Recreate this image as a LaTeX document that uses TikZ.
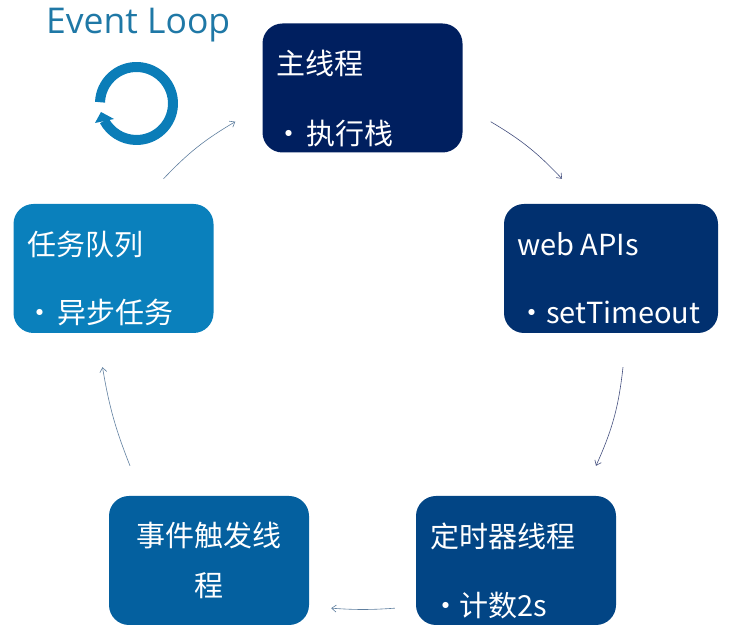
\documentclass[tikz,border=0pt]{standalone}
\usepackage{fontspec}
\setmainfont{Noto Sans CJK SC}
\newfontfamily\titlefont{Open Sans}
\usetikzlibrary{arrows.meta}
\definecolor{mainblue}{HTML}{001F5F}
\definecolor{webblue}{HTML}{01306F}
\definecolor{timerblue}{HTML}{024585}
\definecolor{eventblue}{HTML}{04609F}
\definecolor{queueblue}{HTML}{0A80BC}
\definecolor{loopblue}{HTML}{0B7DB8}
\definecolor{titleblue}{HTML}{1F78A6}
\definecolor{flowdark}{HTML}{45507F}
\definecolor{flowgray}{HTML}{5F7F9F}
\tikzset{
    box/.style={rounded corners=20pt, minimum width=200pt, minimum height=129pt, inner sep=0pt},
    txt/.style={anchor=base west, inner sep=0pt, text=white, font=\fontsize{29}{29}\selectfont},
    flow/.style={draw=flowgray, line width=0.6pt, -{Straight Barb[length=4.5pt,width=7pt]}},
}
\begin{document}
\begin{tikzpicture}[x=1pt,y=1pt]
        \useasboundingbox (0,0) rectangle (732,644);

        \node[box, fill=mainblue] (mainbox) at (362.5,556) {};
        \node[box, fill=webblue, minimum width=214pt] (webbox) at (611,375.5) {};
        \node[box, fill=timerblue] (timerbox) at (516,83.5) {};
        \node[box, fill=eventblue] (eventbox) at (209,83.5) {};
        \node[box, fill=queueblue] (queuebox) at (113.5,375.5) {};

        \node[txt] (maintitle) at (276,569) {主线程};
        \node[txt] (mainitem) at (274,499.5) {·\hspace{3pt}执行栈};
        \node[txt] (webtitle) at (517,388) {web APIs};
        \node[txt] (webitem) at (517,320) {·\hspace{0pt}setTimeout};
        \node[txt] (timertitle) at (430,96) {定时器线程};
        \node[txt] (timeritem) at (431,27) {·\hspace{-1pt}计数2s};
        \node[txt] (eventtitle) at (136,97) {事件触发线};
        \node[txt] (eventrest) at (194,47) {程};
        \node[txt] (queuetitle) at (27,388) {任务队列};
        \node[txt] (queueitem) at (25,320) {·\hspace{3pt}异步任务};

        \node[anchor=base west, inner sep=0pt, text=titleblue, font=\titlefont\fontsize{35.5}{35.5}\selectfont] (looptitle) at (46,610) {Event Loop};

        \coordinate (loopc) at (136.5,540.5);
        \draw[loopblue, line width=10pt] ([shift={(178:36.5)}]loopc) arc (178:-152:36.5);
        \fill[loopblue] ([shift={(-41.5,-19.5)}]loopc) -- ([shift={(-35.5,-8.5)}]loopc) -- ([shift={(-22.5,-15.5)}]loopc) -- cycle;

        \draw[flow, draw=flowdark] ([shift={(28,31)}]mainbox.south east) to[bend left=8] ([shift={(-49,25)}]webbox.north);
        \draw[flow, draw=flowdark] ([shift={(12,-34)}]webbox.south) to[bend left=9] ([shift={(80,30)}]timerbox.north);
        \draw[flow] ([shift={(-21,17)}]timerbox.south west) to[bend left=4] ([shift={(22,17)}]eventbox.south east);
        \draw[flow] ([shift={(-79,30)}]eventbox.north) to[bend left=6] ([shift={(-11,-34)}]queuebox.south);
        \draw[flow] ([shift={(50,25)}]queuebox.north) to[bend left=8] ([shift={(-27,31)}]mainbox.south west);
    \end{tikzpicture}
\end{document}
